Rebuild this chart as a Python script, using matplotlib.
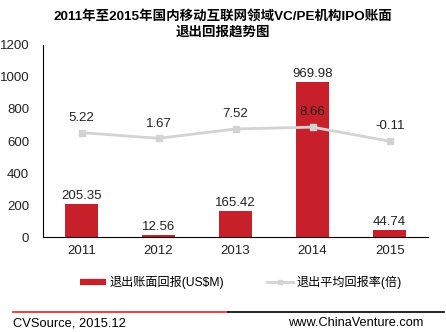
import matplotlib
matplotlib.use("Agg")
import matplotlib.pyplot as plt
from matplotlib.lines import Line2D

plt.rcParams['font.family'] = ['Liberation Sans', 'Noto Sans CJK SC', 'DejaVu Sans']

years = ['2011', '2012', '2013', '2014', '2015']
book_return = [205.35, 12.56, 165.42, 969.98, 44.74]
avg_rate = [5.22, 1.67, 7.52, 8.66, -0.11]
rate_labels = ['5.22', '1.67', '7.52', '8.66', '-0.11']

bar_color = '#C8202B'
line_color = '#D3D3D3'

fig = plt.figure(figsize=(4.46, 3.32), dpi=100)
ax = fig.add_axes([0.0964, 0.2861, 0.8636, 0.5784])
x = list(range(len(years)))

ax.bar(x, book_return, width=0.43, color=bar_color, zorder=2)
for xi, v in zip(x, book_return):
    ax.text(xi, v + 12, f'{v:.2f}', ha='center', va='bottom', fontsize=9.5, color='#222222')

ax.set_xlim(-0.5, 4.5)
ax.set_ylim(0, 1200)
ax.set_yticks([0, 200, 400, 600, 800, 1000, 1200])
ax.set_xticks(x)
ax.set_xticklabels(years)
ax.tick_params(axis='both', length=0, labelsize=9.5, colors='#222222', pad=10)
ax.tick_params(axis='x', pad=6)
ax.spines['top'].set_visible(False)
ax.spines['right'].set_visible(False)
ax.spines['left'].set_color('black')
ax.spines['bottom'].set_color('black')

ax2 = ax.twinx()
ax2.plot(x, avg_rate, color=line_color, linewidth=2, marker='s', markersize=4, zorder=3)
ax2.set_ylim(-60, 60)
ax2.set_yticks([])
for s in ax2.spines.values():
    s.set_visible(False)
for xi, v, t in zip(x, avg_rate, rate_labels):
    ax2.text(xi, v + 5.5, t, ha='center', va='bottom', fontsize=9.5, color='#222222')

fig.text(0.5, 0.926, '2011年至2015年国内移动互联网领域VC/PE机构IPO账面\n退出回报趋势图',
         ha='center', va='center', fontsize=9.7, fontweight='bold', linespacing=1.3)

handles = [Line2D([0], [0], color=bar_color, linewidth=4.5, solid_capstyle='butt'),
           Line2D([0], [0], color=line_color, linewidth=2, marker='s', markersize=3)]
fig.legend(handles, ['退出账面回报(US$M)', '退出平均回报率(倍)'], loc='center',
           bbox_to_anchor=(0.54, 0.148), ncol=2, frameon=False, fontsize=8.7,
           handlelength=2.1, handletextpad=0.3, columnspacing=3.6)

fig.add_artist(Line2D([0.03, 0.512], [0.06, 0.06], color='#E8202A', linewidth=1.2))
fig.add_artist(Line2D([0.512, 0.995], [0.06, 0.06], color='black', linewidth=1.2))
fig.text(0.03, 0.027, 'CVSource, 2015.12', ha='left', va='center', fontsize=9.3)
fig.text(0.95, 0.027, 'www.ChinaVenture.com', ha='right', va='center', fontsize=9.2)

fig.savefig('out.png', dpi=100)
